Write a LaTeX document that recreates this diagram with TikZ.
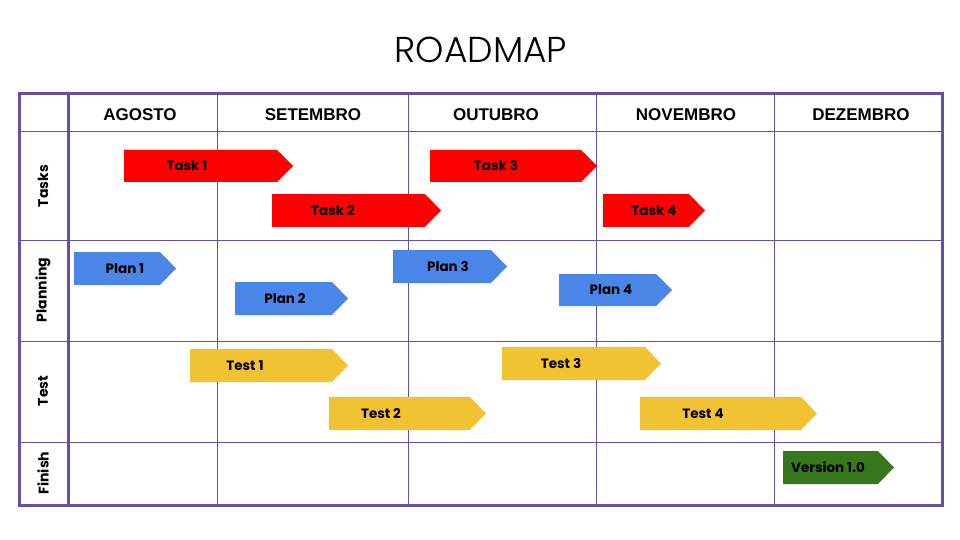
\documentclass[tikz,border=0pt]{standalone}
\usepackage{fontspec}
\setmainfont{Poppins}
\newfontfamily\titlefont{Poppins}[UprightFont=* Light]
\newfontfamily\hdrfont{Liberation Sans}
\definecolor{gridpurple}{HTML}{674EA7}
\definecolor{barred}{HTML}{FF0000}
\definecolor{barblue}{HTML}{4A86E8}
\definecolor{baryellow}{HTML}{F1C232}
\definecolor{bargreen}{HTML}{38761D}
\tikzset{
  outerline/.style={draw=gridpurple, line width=3pt},
  gridline/.style={draw=gridpurple, line width=1pt},
  hdr/.style={font=\hdrfont\bfseries\fontsize{17}{20}\selectfont, anchor=center},
  rowlbl/.style={font=\bfseries\fontsize{14}{16}\selectfont, rotate=90, anchor=center},
  barlbl/.style={font=\bfseries\fontsize{13.5}{15}\selectfont, anchor=center, inner sep=0pt},
}
% #1 name, #2 x1, #3 x2 (tip), #4 ytop, #5 ybot, #6 colour, #7 text x, #8 label
\newcommand{\roadbar}[8]{%
  \fill[#6] (#2,#4) -- (#3-16,#4) -- (#3,{(#4+#5)/2}) -- (#3-16,#5) -- (#2,#5) -- cycle;
  \node[barlbl] (#1) at (#7,{(#4+#5)/2}) {#8};
}
\begin{document}
\begin{tikzpicture}[x=1pt,y=-1pt]
\useasboundingbox (0,0) rectangle (960,540);
\node[font=\titlefont\fontsize{36}{40}\selectfont, anchor=center] (title) at (481,50) {ROADMAP};
% grid
\foreach \x in {217,408,596,774} \draw[gridline] (\x,94) -- (\x,505);
\foreach \y in {132,240,341,442} \draw[gridline] (19,\y) -- (942,\y);
\draw[outerline] (68,94) -- (68,505);
\draw[outerline] (19,94) rectangle (942,505);
% headers
\node[hdr] (h1) at (140,115) {AGOSTO};
\node[hdr] (h2) at (313,115) {SETEMBRO};
\node[hdr] (h3) at (496,115) {OUTUBRO};
\node[hdr] (h4) at (686,115) {NOVEMBRO};
\node[hdr] (h5) at (861,115) {DEZEMBRO};
% row labels
\node[rowlbl] (r1) at (43,186) {Tasks};
\node[rowlbl] (r2) at (43,290) {Planning};
\node[rowlbl] (r3) at (43,391) {Test};
\node[rowlbl] (r4) at (43,473) {Finish};
% bars
\roadbar{t1}{124}{293}{150}{182}{barred}{187}{Task 1}
\roadbar{t2}{272}{441}{194}{227}{barred}{333}{Task 2}
\roadbar{t3}{430}{597}{150}{182}{barred}{496}{Task 3}
\roadbar{t4}{603}{705}{194}{227}{barred}{654}{Task 4}
\roadbar{p1}{74}{176}{252}{285}{barblue}{125}{Plan 1}
\roadbar{p2}{235}{348}{282}{315}{barblue}{285}{Plan 2}
\roadbar{p3}{393}{507}{250}{283}{barblue}{448}{Plan 3}
\roadbar{p4}{559}{672}{274}{306}{barblue}{611}{Plan 4}
\roadbar{s1}{190}{348}{349}{382}{baryellow}{245}{Test 1}
\roadbar{s2}{329}{486}{397}{430}{baryellow}{381}{Test 2}
\roadbar{s3}{502}{661}{347}{380}{baryellow}{561}{Test 3}
\roadbar{s4}{640}{817}{397}{430}{baryellow}{703}{Test 4}
\roadbar{v1}{783}{894}{451}{484}{bargreen}{828}{Version 1.0}
\end{tikzpicture}
\end{document}
